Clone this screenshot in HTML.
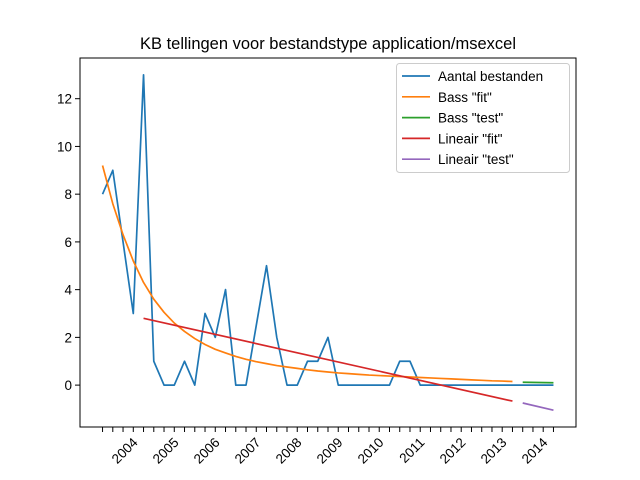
<!DOCTYPE html>
<html><head><meta charset="utf-8"><style>body{margin:0;background:#fff}svg{display:block;font-family:"Liberation Sans","DejaVu Sans",sans-serif}</style></head>
<body>
<svg id="chart" width="640" height="480"></svg>
<script>
const aantal=[8,9,6,3,13,1,0,0,1,0,3,2,4,0,0,2.5,5,2,0,0,1,1,2,0,0,0,0,0,0,1,1,0,0,0,0,0,0,0,0,0,0,0,0,0,0];
const bassFit=[9.2,7.6,6.3,5.2,4.3,3.6,3.05,2.6,2.25,1.95,1.7,1.5,1.35,1.2,1.08,0.98,0.9,0.82,0.76,0.7,0.64,0.59,0.55,0.51,0.48,0.45,0.42,0.4,0.38,0.36,0.34,0.32,0.3,0.28,0.26,0.24,0.22,0.2,0.18,0.17,0.15];
const bassTestX=[41,44];
const bassTestY=[0.12,0.1];
const linFitX=[4,40];
const linFitY=[2.8,-0.67];
const linTestX=[41,44];
const linTestY=[-0.75,-1.05];
const yTicks=[0,2,4,6,8,10,12];
const xLabels=["2004","2005","2006","2007","2008","2009","2010","2011","2012","2013","2014"];
const nTicks=45;

const NS="http://www.w3.org/2000/svg";
const svg=document.getElementById('chart');
const L=80,R=576,T=58,B=427;
const xmin=-2.2,xmax=46.2,ymin=-1.755,ymax=13.705;
const X=i=>L+(i-xmin)/(xmax-xmin)*(R-L);
const Y=v=>B-(v-ymin)/(ymax-ymin)*(B-T);
function mk(tag,attrs,parent){const e=document.createElementNS(NS,tag);for(const k in attrs)e.setAttribute(k,attrs[k]);(parent||svg).appendChild(e);return e;}
function poly(xs,ys,color,name){
  const e=mk('polyline',{points:xs.map((x,k)=>X(x)+','+Y(ys[k])).join(' '),fill:'none',stroke:color,'stroke-width':1.7,'stroke-linejoin':'round'});
  
  
}
const t=mk('text',{x:328,y:49,'text-anchor':'middle','font-size':16.5,fill:'#000'});t.textContent='KB tellingen voor bestandstype application/msexcel';



poly(aantal.map((v,i)=>i),aantal,'#1f77b4','series-aantal-bestanden');
poly(bassFit.map((v,i)=>i),bassFit,'#ff7f0e','series-bass-fit');
poly(bassTestX,bassTestY,'#2ca02c','series-bass-test');
poly(linFitX,linFitY,'#d62728','series-lineair-fit');
poly(linTestX,linTestY,'#9467bd','series-lineair-test');

const frame=mk('rect',{x:L,y:T,width:R-L,height:B-T,fill:'none',stroke:'#000','stroke-width':1});



yTicks.forEach(v=>{
  mk('line',{x1:L-5,x2:L,y1:Y(v),y2:Y(v),stroke:'#000','stroke-width':1});
  const tx=mk('text',{x:L-8,y:Y(v)+5,'text-anchor':'end','font-size':13.5,fill:'#000'});tx.textContent=v;
  
  
});
for(let i=0;i<nTicks;i++){mk('line',{x1:X(i),x2:X(i),y1:B,y2:B+5,stroke:'#000','stroke-width':1});}
xLabels.forEach((s,k)=>{
  const x=X(3+4*k),y=B+12;
  const tx=mk('text',{x:x+1,y:y+6,'text-anchor':'end','font-size':13.5,fill:'#000',transform:`rotate(-45 ${x+1} ${y})`});tx.textContent=s;
  
  
});

const lg=mk('g',{});


mk('rect',{x:396.5,y:63.5,width:173,height:109,rx:3,fill:'#fff','fill-opacity':0.8,stroke:'#ccc'},lg);
[['Aantal bestanden','#1f77b4'],['Bass "fit"','#ff7f0e'],['Bass "test"','#2ca02c'],['Lineair "fit"','#d62728'],['Lineair "test"','#9467bd']].forEach((e,k)=>{
  const y=76+k*20.8;
  mk('line',{x1:402,x2:430,y1:y,y2:y,stroke:e[1],'stroke-width':1.7},lg);
  const tx=mk('text',{x:438,y:y+5,'font-size':13.5,fill:'#000'},lg);tx.textContent=e[0];
  
  
});
</script>
</body></html>
